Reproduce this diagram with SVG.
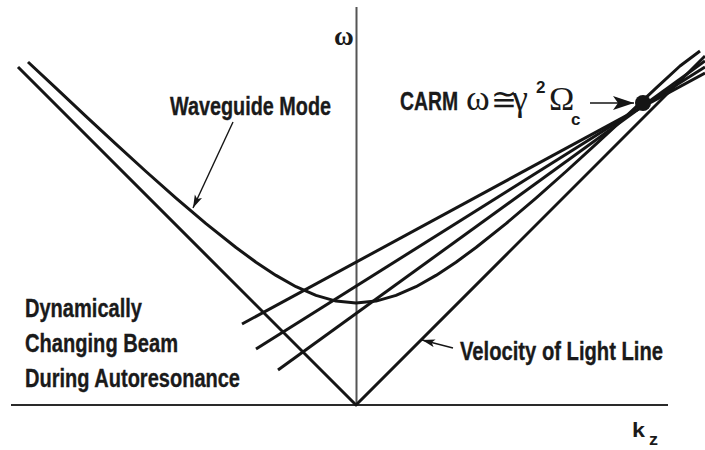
<svg xmlns="http://www.w3.org/2000/svg" width="705" height="450" viewBox="0 0 705 450">
<style>
.lbl{font-family:"Liberation Sans",Arial,sans-serif;font-weight:bold;fill:#1a1a1a}
.big{font-size:25px;stroke:#1a1a1a;stroke-width:0.35}
.grk{font-family:"Liberation Serif","Times New Roman",serif;fill:#1a1a1a}
.crv{fill:none;stroke:#151515;stroke-width:3;stroke-linecap:butt;stroke-linejoin:round}
.thin{fill:none;stroke:#151515;stroke-width:1.4}
</style>
<defs>
<marker id="ah" markerUnits="userSpaceOnUse" markerWidth="14" markerHeight="10" refX="13" refY="4" orient="auto">
<path d="M0,0 L13,4 L0,8 L3,4 Z" fill="#151515"/>
</marker>
<marker id="ahBig" markerUnits="userSpaceOnUse" markerWidth="22" markerHeight="16" refX="21" refY="7" orient="auto">
<path d="M0,0 L21,7 L0,14 L5,7 Z" fill="#151515"/>
</marker>
</defs>
<rect width="705" height="450" fill="#ffffff"/>
<g id="axes">
<line x1="11" y1="405" x2="668" y2="405" stroke="#2a2a2a" stroke-width="2"/>
<line x1="356.5" y1="7" x2="356.5" y2="405" stroke="#555555" stroke-width="2"/>
</g>
<g id="curves">
<polyline id="light-line" class="crv" stroke-width="2.6" points="18,67 356,405 705,56"/>
<path id="waveguide-mode" class="crv" d="M28,62 L56,88.1 L86,116.4 L116,144.2 L146,171.5 L176,198.1 L206,223.6 L236,247.5 L256,262.2 L276,275.4 L296,286.7 L316,295.4 L336,301.1 L356,303 L376,301.1 L396,295.4 L416,286.7 L436,275.4 L456,262.2 L476,247.5 L506,223.6 L536,198.1 L566,171.5 L596,144.2 L626,116.4 L656,88.1 L680,66 L700,51"/>
<line id="beam-1" class="crv" x1="242" y1="324" x2="705" y2="73"/>
<line id="beam-2" class="crv" x1="256" y1="349" x2="705" y2="67"/>
<line id="beam-3" class="crv" x1="278" y1="370" x2="705" y2="61"/>
<circle id="carm-point" cx="643" cy="103" r="8" fill="#151515"/>
</g>
<g id="connectors">
<line class="thin" x1="233" y1="122" x2="193" y2="208" marker-end="url(#ah)"/>
<line class="thin" stroke-width="1.1" x1="453" y1="348" x2="422" y2="340" marker-end="url(#ah)"/>
<line class="thin" stroke-width="3" x1="590" y1="103" x2="634" y2="103" marker-end="url(#ahBig)"/>
</g>
<g id="label-waveguide"><text class="lbl big" x="170" y="115" textLength="161" lengthAdjust="spacingAndGlyphs">Waveguide Mode</text></g>
<g id="label-beam">
<text class="lbl big" x="25" y="317" textLength="117" lengthAdjust="spacingAndGlyphs">Dynamically</text>
<text class="lbl big" x="25" y="352" textLength="153" lengthAdjust="spacingAndGlyphs">Changing Beam</text>
<text class="lbl big" x="25" y="387" textLength="215" lengthAdjust="spacingAndGlyphs">During Autoresonance</text>
</g>
<g id="label-light"><text class="lbl big" x="460" y="360" textLength="203" lengthAdjust="spacingAndGlyphs">Velocity of Light Line</text></g>
<g id="label-carm">
<text class="lbl big" x="400" y="110" textLength="58" lengthAdjust="spacingAndGlyphs">CARM</text>
<text class="grk" x="466" y="110" style="font-size:36px"><tspan>ω</tspan><tspan x="491" style="font-size:31px">≅</tspan><tspan x="512">γ</tspan><tspan class="lbl" x="536" y="93" style="font-size:17px">2</tspan><tspan x="549" y="110" style="font-size:34px">Ω</tspan><tspan class="lbl" x="571" y="125" style="font-size:17px">c</tspan></text>
</g>
<g id="label-omega"><text class="grk" x="334" y="45" style="font-size:27px;font-weight:bold">ω</text></g>
<g id="label-kz">
<text class="lbl" x="632" y="437" style="font-size:21px" textLength="13" lengthAdjust="spacingAndGlyphs">k</text>
<text class="lbl" x="649" y="445" style="font-size:17px" textLength="9" lengthAdjust="spacingAndGlyphs">z</text>
</g>
</svg>
